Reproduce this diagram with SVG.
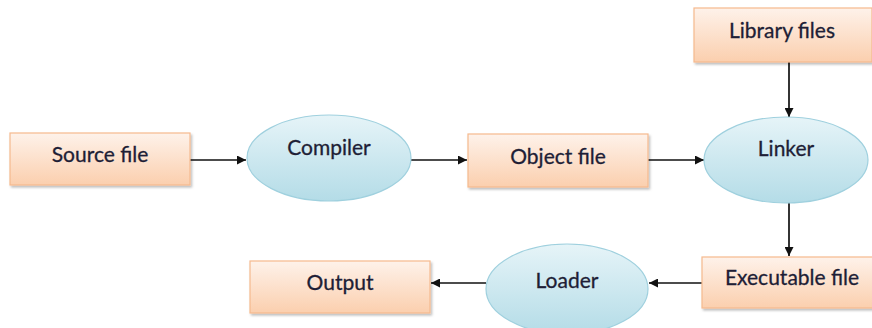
<svg xmlns="http://www.w3.org/2000/svg" width="872" height="328" viewBox="0 0 872 328">
  <style>
    .box { fill: url(#boxFill); stroke: #f6b98e; stroke-width: 1.2; filter: url(#shadow); }
    .oval { fill: url(#ovalFill); stroke: #9fd0de; stroke-width: 1.2; }
    .label { font-family: Lato, "Open Sans", "Liberation Sans", sans-serif; font-size: 21px; fill: #1e1e36; stroke: #1e1e36; stroke-width: 0.3; text-anchor: middle; }
    .link { stroke: #111; stroke-width: 1.7; fill: none; marker-end: url(#arrow); }
  </style>
  <defs>
    <linearGradient id="boxFill" x1="0" y1="0" x2="0" y2="1">
      <stop offset="0" stop-color="#fef2ea"/>
      <stop offset="1" stop-color="#fbcfae"/>
    </linearGradient>
    <linearGradient id="ovalFill" x1="0" y1="0" x2="0" y2="1">
      <stop offset="0" stop-color="#e6f4f8"/>
      <stop offset="1" stop-color="#b4dce7"/>
    </linearGradient>
    <filter id="shadow" x="-5%" y="-10%" width="115%" height="130%">
      <feDropShadow dx="1.5" dy="2" stdDeviation="1" flood-color="#000" flood-opacity="0.25"/>
    </filter>
    <marker id="arrow" viewBox="0 0 10 10" refX="10" refY="5" markerWidth="9" markerHeight="9" markerUnits="userSpaceOnUse" orient="auto">
      <path d="M0,0 L10,5 L0,10 Z" fill="#111"/>
    </marker>
  </defs>

  <!-- connectors -->
  <g id="connectors">
    <line class="link" x1="190" y1="160" x2="246" y2="160"/>
    <line class="link" x1="411" y1="160" x2="467" y2="160"/>
    <line class="link" x1="648" y1="160" x2="704" y2="160"/>
    <line class="link" x1="789" y1="62" x2="789" y2="117"/>
    <line class="link" x1="789" y1="202" x2="789" y2="256"/>
    <line class="link" x1="702" y1="283" x2="649" y2="283"/>
    <line class="link" x1="486" y1="283" x2="431" y2="283"/>
  </g>

  <g id="source-file">
    <rect class="box" x="10" y="133" width="180" height="52"/>
    <text class="label" x="100" y="162">Source file</text>
  </g>

  <g id="compiler">
    <ellipse class="oval" cx="329" cy="158" rx="82" ry="43"/>
    <text class="label" x="329" y="155">Compiler</text>
  </g>

  <g id="object-file">
    <rect class="box" x="468" y="134" width="180" height="53"/>
    <text class="label" x="558" y="164">Object file</text>
  </g>

  <g id="library-files">
    <rect class="box" x="694" y="8" width="178" height="54"/>
    <text class="label" x="782" y="38">Library files</text>
  </g>

  <g id="linker">
    <ellipse class="oval" cx="786" cy="160" rx="82" ry="43"/>
    <text class="label" x="786" y="156">Linker</text>
  </g>

  <g id="executable-file">
    <rect class="box" x="702" y="257" width="176" height="51"/>
    <text class="label" x="792" y="285">Executable file</text>
  </g>

  <g id="loader">
    <ellipse class="oval" cx="567" cy="289" rx="81" ry="45"/>
    <text class="label" x="567" y="288">Loader</text>
  </g>

  <g id="output">
    <rect class="box" x="250" y="261" width="180" height="52"/>
    <text class="label" x="340" y="290">Output</text>
  </g>
</svg>
